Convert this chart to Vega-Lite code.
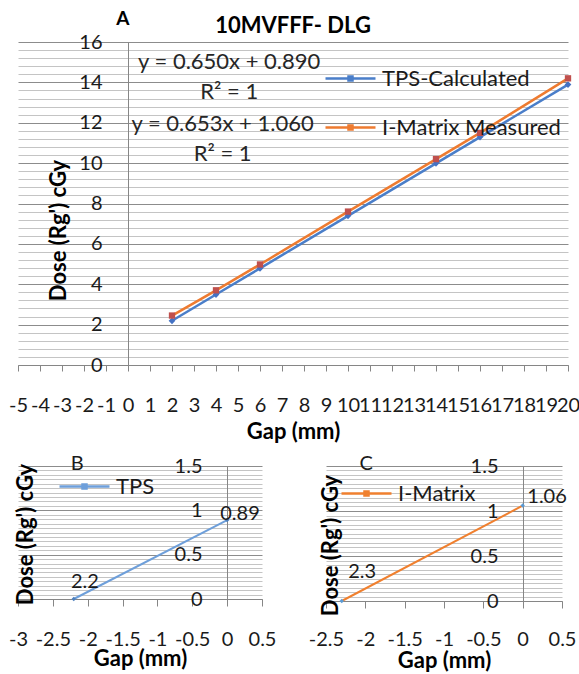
{
  "$schema": "https://vega.github.io/schema/vega-lite/v6.json",
  "background": "white",
  "padding": {"left": 8, "top": 10, "right": 5, "bottom": 5},
  "bounds": "flush",
  "spacing": 101,
  "resolve": {"scale": {"x": "independent", "y": "independent", "color": "independent"}, "legend": {"color": "independent"}},
  "config": {
    "view": {"stroke": null},
    "font": "Lato",
    "axis": {"labelFont": "Lato", "titleFont": "Lato", "labelColor": "#1a1a1a", "titleColor": "#000000", "domainColor": "#868686", "tickColor": "#868686", "labelFontSize": 20, "titleFontSize": 22, "titleFontWeight": "bold", "labelOverlap": false, "labelFlush": false, "labelBound": false, "tickCount": 200},
    "legend": {"labelFont": "Lato", "labelFontSize": 22, "labelColor": "#1a1a1a", "labelLimit": 300, "padding": 0, "rowPadding": 0, "labelOffset": 5, "symbolType": "M-1,0H1M-0.08,-0.08H0.08V0.08H-0.08Z", "symbolSize": 2500, "symbolStrokeWidth": 2.5, "title": null}
  },
  "vconcat": [
    {
      "width": 550,
      "height": 323,
      "title": {"text": "10MVFFF- DLG", "fontSize": 22, "fontWeight": "bold", "font": "Lato", "offset": -28, "anchor": "middle", "color": "#000000"},
      "layer": [
        {
          "data": {"values": [
            {"gap": 2, "dose": 2.19, "series": "TPS-Calculated"},
            {"gap": 4, "dose": 3.49, "series": "TPS-Calculated"},
            {"gap": 6, "dose": 4.79, "series": "TPS-Calculated"},
            {"gap": 10, "dose": 7.39, "series": "TPS-Calculated"},
            {"gap": 14, "dose": 9.99, "series": "TPS-Calculated"},
            {"gap": 16, "dose": 11.29, "series": "TPS-Calculated"},
            {"gap": 20, "dose": 13.89, "series": "TPS-Calculated"},
            {"gap": 2, "dose": 2.45, "series": "I-Matrix Measured"},
            {"gap": 4, "dose": 3.7, "series": "I-Matrix Measured"},
            {"gap": 6, "dose": 4.98, "series": "I-Matrix Measured"},
            {"gap": 10, "dose": 7.6, "series": "I-Matrix Measured"},
            {"gap": 14, "dose": 10.2, "series": "I-Matrix Measured"},
            {"gap": 16, "dose": 11.5, "series": "I-Matrix Measured"},
            {"gap": 20, "dose": 14.2, "series": "I-Matrix Measured"}
          ]},
          "layer": [
            {
              "mark": {"type": "line", "strokeWidth": 2.5},
              "encoding": {
                "x": {"field": "gap", "type": "quantitative", "scale": {"domain": [-5, 20], "nice": false, "zero": false},
                  "axis": {"values": [-5,-4,-3,-2,-1,0,1,2,3,4,5,6,7,8,9,10,11,12,13,14,15,16,17,18,19,20], "tickCount": 200, "labelOverlap": false, "labelExpr": "'' + datum.value", "grid": false, "tickSize": 6, "labelPadding": 24, "title": "Gap (mm)", "titleY": 66, "titleBaseline": "middle"}},
                "y": {"field": "dose", "type": "quantitative", "scale": {"domain": [0, 16], "nice": false},
                  "axis": {"values": [0,0.4,0.8,1.2,1.6,2,2.4,2.8,3.2,3.6,4,4.4,4.8,5.2,5.6,6,6.4,6.8,7.2,7.6,8,8.4,8.8,9.2,9.6,10,10.4,10.8,11.2,11.6,12,12.4,12.8,13.2,13.6,14,14.4,14.8,15.2,15.6,16],
                    "tickCount": 200, "labelOverlap": false,
                    "labelExpr": "datum.value % 2 === 0 ? '' + datum.value : ''", "offset": -110, "ticks": false, "tickSize": 0, "labelPadding": 26, "grid": true,
                    "gridColor": {"condition": {"test": "datum.value % 2 === 0", "value": "#8c8c8c"}, "value": "#c4c4c4"},
                    "title": "Dose (Rg') cGy", "titleX": -70, "titleY": 188, "titleAngle": -90, "titleAlign": "center", "titleBaseline": "middle"}},
                "color": {"field": "series", "type": "nominal", "scale": {"domain": ["TPS-Calculated", "I-Matrix Measured"], "range": ["#4A7EC9", "#EE7B30"]},
                  "legend": {"orient": "none", "legendX": 306, "legendY": 10, "rowPadding": 11}}
              }
            },
            {
              "transform": [{"filter": "datum.series === 'TPS-Calculated'"}],
              "mark": {"type": "point", "filled": true, "size": 45, "opacity": 1, "shape": "diamond", "color": "#4472C4"},
              "encoding": {
                "x": {"field": "gap", "type": "quantitative"},
                "y": {"field": "dose", "type": "quantitative"}
              }
            },
            {
              "transform": [{"filter": "datum.series === 'I-Matrix Measured'"}],
              "mark": {"type": "point", "filled": true, "size": 40, "opacity": 1, "shape": "square", "color": "#C0504D"},
              "encoding": {
                "x": {"field": "gap", "type": "quantitative"},
                "y": {"field": "dose", "type": "quantitative"}
              }
            }
          ]
        },
        {
          "data": {"values": [
            {"gap": 4.6, "dose": 15.0, "label": "y = 0.650x + 0.890"},
            {"gap": 4.6, "dose": 13.5, "label": "R² = 1"},
            {"gap": 4.3, "dose": 11.93, "label": "y = 0.653x + 1.060"},
            {"gap": 4.3, "dose": 10.45, "label": "R² = 1"}
          ]},
          "mark": {"type": "text", "fontSize": 22, "font": "Lato", "color": "#262626", "baseline": "middle"},
          "encoding": {
            "x": {"field": "gap", "type": "quantitative"},
            "y": {"field": "dose", "type": "quantitative"},
            "text": {"field": "label"}
          }
        },
        {
          "data": {"values": [{"gap": -0.23, "dose": 17.13, "label": "A"}]},
          "mark": {"type": "text", "fontSize": 19, "fontWeight": "bold", "font": "Lato", "color": "#000000", "baseline": "middle"},
          "encoding": {
            "x": {"field": "gap", "type": "quantitative"},
            "y": {"field": "dose", "type": "quantitative"},
            "text": {"field": "label"}
          }
        }
      ]
    },
    {
      "hconcat": [
        {
          "width": 244,
          "height": 133,
          "layer": [
            {
              "data": {"values": [
                {"gap": -2.2, "dose": 0, "series": "TPS"},
                {"gap": 0, "dose": 0.89, "series": "TPS"}
              ]},
              "layer": [
                {
                  "mark": {"type": "line", "strokeWidth": 2},
                  "encoding": {
                    "x": {"field": "gap", "type": "quantitative", "scale": {"domain": [-3, 0.5], "nice": false, "zero": false},
                      "axis": {"values": [-3,-2.5,-2,-1.5,-1,-0.5,0,0.5], "tickCount": 200, "labelOverlap": false, "labelExpr": "'' + datum.value", "grid": false, "tickSize": 7, "labelPadding": 23, "title": "Gap (mm)", "titleY": 59, "titleBaseline": "middle"}},
                    "y": {"field": "dose", "type": "quantitative", "scale": {"domain": [0, 1.5], "nice": false},
                      "axis": {"values": [0,0.05,0.1,0.15,0.2,0.25,0.3,0.35,0.4,0.45,0.5,0.55,0.6,0.65,0.7,0.75,0.8,0.85,0.9,0.95,1,1.05,1.1,1.15,1.2,1.25,1.3,1.35,1.4,1.45,1.5],
                        "tickCount": 200, "labelOverlap": false,
                        "labelExpr": "datum.value % 0.5 === 0 ? '' + datum.value : ''", "offset": -209, "ticks": false, "tickSize": 0, "labelPadding": 25, "grid": true,
                        "gridColor": {"condition": {"test": "datum.value % 0.5 === 0", "value": "#8c8c8c"}, "value": "#c4c4c4"},
                        "title": "Dose (Rg') cGy", "titleX": -202, "titleY": 68, "titleAngle": -90, "titleAlign": "center", "titleBaseline": "middle"}},
                    "color": {"field": "series", "type": "nominal", "scale": {"domain": ["TPS"], "range": ["#6E9FDA"]},
                      "legend": {"orient": "none", "legendX": 40, "legendY": -6}}
                  }
                },
                {
                  "mark": {"type": "point", "filled": true, "size": 20, "shape": "diamond", "color": "#4F81BD", "opacity": 1},
                  "encoding": {
                    "x": {"field": "gap", "type": "quantitative"},
                    "y": {"field": "dose", "type": "quantitative"}
                  }
                }
              ]
            },
            {
              "data": {"values": [
                {"gap": -2.04, "dose": 0.19, "label": "2.2"},
                {"gap": 0.185, "dose": 0.96, "label": "0.89"},
                {"gap": -2.15, "dose": 1.52, "label": "B"}
              ]},
              "mark": {"type": "text", "fontSize": 20, "font": "Lato", "color": "#1a1a1a", "baseline": "middle"},
              "encoding": {
                "x": {"field": "gap", "type": "quantitative"},
                "y": {"field": "dose", "type": "quantitative"},
                "text": {"field": "label"}
              }
            }
          ]
        },
        {
          "width": 236,
          "height": 135,
          "layer": [
            {
              "data": {"values": [
                {"gap": -2.3, "dose": 0, "series": "I-Matrix"},
                {"gap": 0, "dose": 1.06, "series": "I-Matrix"}
              ]},
              "layer": [
                {
                  "mark": {"type": "line", "strokeWidth": 2},
                  "encoding": {
                    "x": {"field": "gap", "type": "quantitative", "scale": {"domain": [-2.5, 0.5], "nice": false, "zero": false},
                      "axis": {"values": [-2.5,-2,-1.5,-1,-0.5,0,0.5], "tickCount": 200, "labelOverlap": false, "labelExpr": "'' + datum.value", "grid": false, "tickSize": 7, "labelPadding": 21, "title": "Gap (mm)", "titleY": 59, "titleBaseline": "middle"}},
                    "y": {"field": "dose", "type": "quantitative", "scale": {"domain": [0, 1.5], "nice": false},
                      "axis": {"values": [0,0.05,0.1,0.15,0.2,0.25,0.3,0.35,0.4,0.45,0.5,0.55,0.6,0.65,0.7,0.75,0.8,0.85,0.9,0.95,1,1.05,1.1,1.15,1.2,1.25,1.3,1.35,1.4,1.45,1.5],
                        "tickCount": 200, "labelOverlap": false,
                        "labelExpr": "datum.value % 0.5 === 0 ? '' + datum.value : ''", "offset": -197, "ticks": false, "tickSize": 0, "labelPadding": 25, "grid": true,
                        "gridColor": {"condition": {"test": "datum.value % 0.5 === 0", "value": "#8c8c8c"}, "value": "#c4c4c4"},
                        "title": "Dose (Rg') cGy", "titleX": -193, "titleY": 79, "titleAngle": -90, "titleAlign": "center", "titleBaseline": "middle"}},
                    "color": {"field": "series", "type": "nominal", "scale": {"domain": ["I-Matrix"], "range": ["#F0802F"]},
                      "legend": {"orient": "none", "legendX": 14, "legendY": 1}}
                  }
                },
                {
                  "mark": {"type": "point", "filled": true, "size": 20, "shape": "diamond", "color": "#5B9BD5", "opacity": 1},
                  "encoding": {
                    "x": {"field": "gap", "type": "quantitative"},
                    "y": {"field": "dose", "type": "quantitative"}
                  }
                }
              ]
            },
            {
              "data": {"values": [
                {"gap": -2.04, "dose": 0.32, "label": "2.3"},
                {"gap": 0.31, "dose": 1.16, "label": "1.06"},
                {"gap": -1.99, "dose": 1.52, "label": "C"}
              ]},
              "mark": {"type": "text", "fontSize": 20, "font": "Lato", "color": "#1a1a1a", "baseline": "middle"},
              "encoding": {
                "x": {"field": "gap", "type": "quantitative"},
                "y": {"field": "dose", "type": "quantitative"},
                "text": {"field": "label"}
              }
            }
          ]
        }
      ],
      "spacing": 64,
      "bounds": "flush",
      "resolve": {"scale": {"x": "independent", "y": "independent", "color": "independent"}, "legend": {"color": "independent"}}
    }
  ]
}
